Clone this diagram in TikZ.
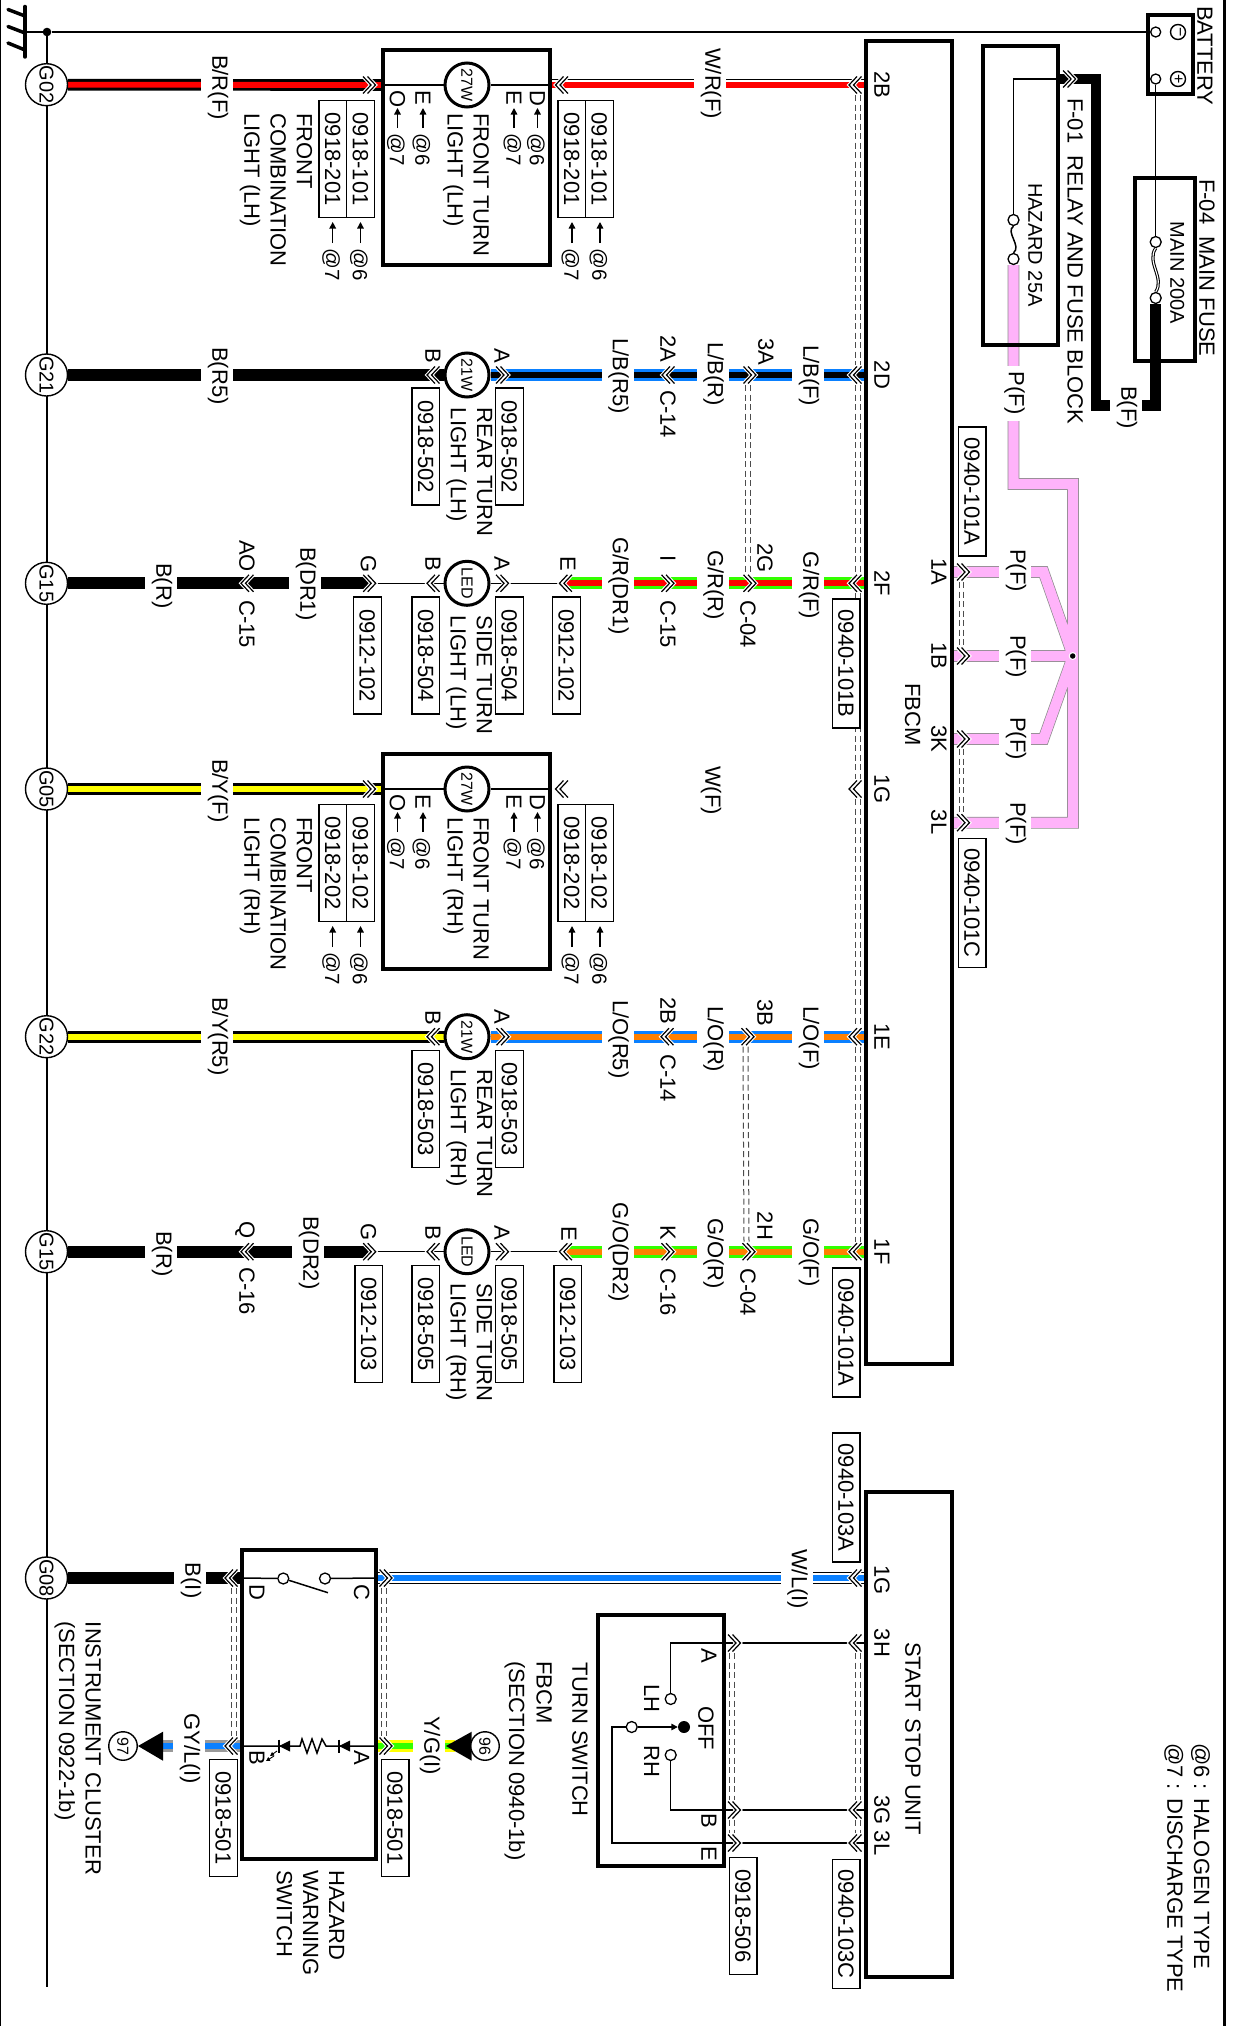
\documentclass[tikz,border=0pt]{standalone}
\usepackage{fontspec}
\setmainfont{Liberation Sans}
\usetikzlibrary{arrows.meta,backgrounds}
\definecolor{wred}{HTML}{FF0000}
\definecolor{wblue}{HTML}{0A80FF}
\definecolor{wgreen}{HTML}{33FF00}
\definecolor{worange}{HTML}{FF8000}
\definecolor{wyellow}{HTML}{FFFF00}
\definecolor{wpink}{HTML}{FFB3FA}
\definecolor{wgray}{HTML}{999999}
\newcommand\fsA{\fontsize{22}{26.2}\selectfont}
\newcommand\fsB{\fontsize{20}{24}\selectfont}
\newcommand\fsC{\fontsize{16}{20}\selectfont}
\tikzset{
 tx/.style={rotate=-90,anchor=west,inner sep=0pt,text height=15.4pt,text depth=0pt,font=\fsA},
 txc/.style={rotate=-90,anchor=center,inner sep=0pt,text height=15.4pt,text depth=0pt,font=\fsA},
 txm/.style={rotate=-90,anchor=west,inner sep=0pt,align=left,font=\fsA},
 wl/.style={rotate=-90,anchor=west,inner xsep=0pt,inner ysep=0pt,fill=white,minimum height=32pt,text height=15.4pt,text depth=6pt,font=\fsA},
 refbox/.style={rotate=-90,draw,fill=white,line width=1.3pt,inner sep=0pt,minimum width=117pt,minimum height=27.7pt,text height=15.4pt,text depth=0pt,font=\fsA},
 refboxl/.style={refbox,minimum width=129pt},
 gnd/.style={circle,draw,line width=1.4pt,fill=white,inner sep=0pt,minimum size=42pt,rotate=-90,font=\fsB},
 lampn/.style={circle,draw,line width=3pt,fill=white,inner sep=0pt,minimum size=44pt,rotate=-90,font=\fsC},
 term/.style={circle,draw,line width=1.3pt,fill=white,inner sep=0pt,minimum size=11pt},
 sym/.style={circle,draw,line width=1.4pt,inner sep=0pt,minimum size=15pt,rotate=-90,font=\fsC},
 tag/.style={circle,draw,line width=1.4pt,fill=white,inner sep=0pt,minimum size=28.5pt,rotate=-90,font=\fsC},
 modb/.style={draw,line width=4pt},
 thinw/.style={draw,line width=1.5pt},
 dsh/.style={draw,line width=1pt,black!70,dash pattern=on 6pt off 3.5pt},
 smallarrow/.style={-{Triangle[length=6.5pt,width=6.5pt]},line width=1.4pt},
}
\newcommand\chev[4]{\coordinate (#1) at (#2,#3);
 \begin{scope}[shift={(#1)},xscale=#4]
 \draw[white,line width=3.4pt] (-6.5,-8.5)--(1.5,0)--(-6.5,8.5) (-2,-8.5)--(6,0)--(-2,8.5);
 \draw[black,line width=1.2pt] (-6.5,-8.5)--(1.5,0)--(-6.5,8.5) (-2,-8.5)--(6,0)--(-2,8.5);
 \end{scope}}
\newcommand\wire[3]{\draw[line width=11.7pt,#1]#3;\draw[line width=5.8pt,#2]#3;}
\newcommand\wireW[2]{\draw[line width=12pt,black]#2;\draw[line width=10pt,white]#2;\draw[line width=6pt,#1]#2;}
\newcommand\pinkw[1]{\draw[line width=11.6pt,black!45]#1;\draw[line width=10.2pt,wpink]#1;}
\newcommand\dpair[4]{\draw[dsh] ([shift={(#3,10)}]#1) -- ([shift={(#3,-10)}]#2);\draw[dsh] ([shift={(#4,10)}]#1) -- ([shift={(#4,-10)}]#2);}
\newcommand\arrowlab[4]{\draw[smallarrow] (#1,#3) -- (#1,#2);\node[tx,font=\fontsize{20.5}{24}\selectfont] at (#1,#3+5) {#4};}
% front combination unit: prefix, row y, side, ref1, ref2
\newcommand\frontunit[5]{\begin{scope}[shift={(0,#2)}]
 \coordinate (#1w) at (382.5,0); \coordinate (#1e) at (550,0);
 \draw[modb] (382.5,-35) rectangle (550,180);
 \node[lampn] (#1lamp) at (467,0) {27W};
 \node[txm] (#1n) at (466,28) {FRONT TURN\\LIGHT (#3)};
 \node[txm] (#1m) at (276,28) {FRONT\\COMBINATION\\LIGHT (#3)};
 \node[tx] at (397.5,5) {O}; \arrowlab{397.5}{23}{43}{@7}
 \node[tx] at (423,5) {E}; \arrowlab{423}{23}{43}{@6}
 \node[tx] at (514,5) {E}; \arrowlab{514}{23}{43}{@7}
 \node[tx] at (537.5,5) {D}; \arrowlab{537.5}{23}{43}{@6}
 \node[refbox] (#1ra) at (360.5,74.2) {#4};
 \node[refbox] (#1rb) at (332.7,74.2) {#5};
 \node[refbox] (#1rc) at (599.4,74.2) {#4};
 \node[refbox] (#1rd) at (571.7,74.2) {#5};
 \arrowlab{360.5}{137}{158}{@6} \arrowlab{332.7}{137}{158}{@7}
 \arrowlab{600}{137}{158}{@6} \arrowlab{572}{137}{158}{@7}
 \end{scope}}
\begin{document}
\begin{tikzpicture}[x=1pt,y=-1pt]
\useasboundingbox (0,0) rectangle (1233,2026);
% frame
\draw[line width=1.5pt] (.7,0)--(.7,2026);
\draw[line width=3pt] (1224,0)--(1224,2026);
% ground symbol and bus
\node[circle,fill=black,inner sep=0pt,minimum size=8.6pt] (gj) at (47,32) {};
\coordinate (gs) at (25,32);
\coordinate (busend) at (47,1987);
\draw[line width=3.5pt,line cap=round] (25,6.5)--(25,57);
\draw[line width=3.5pt,line cap=round] (25,16)--(8,9.5) (25,33)--(8,26.5) (25,50)--(8,43);
\draw[thinw] (gs)--(gj);
\node[gnd] (g02) at (46.5,84.7) {G02};
\node[gnd] (g21) at (46.5,375) {G21};
\node[gnd] (g15a) at (46.5,583.3) {G15};
\node[gnd] (g05) at (46.5,789) {G05};
\node[gnd] (g22) at (46.5,1036.7) {G22};
\node[gnd] (g15b) at (46.5,1251.7) {G15};
\node[gnd] (g08) at (46.5,1578) {G08};
% modules
\draw[modb] (866,41) rectangle (952,1364);
\draw[modb] (866,1491.7) rectangle (952,1976.7);
\draw[modb] (983.4,45.7) rectangle (1057.8,345);
\draw[modb] (1135,178) rectangle (1195,360.7);
\draw[modb] (1147.5,15) rectangle (1192.5,94);
\draw[modb] (241.7,1550) rectangle (376,1859);
\draw[modb] (598.3,1615) rectangle (724,1866);
% module pin coordinates
\coordinate (m2B) at (866,85); \coordinate (m2D) at (866,375); \coordinate (m2F) at (866,583.3);
\coordinate (m1E) at (866,1036.7); \coordinate (m1F) at (866,1251.7);
\coordinate (m1A) at (952,572); \coordinate (m1B) at (952,656); \coordinate (m3K) at (952,739); \coordinate (m3L) at (952,822.7);
\coordinate (ss1G) at (866,1578); \coordinate (ss3H) at (866,1643); \coordinate (ss3G) at (866,1810); \coordinate (ss3L) at (866,1843);
% module pin labels
\node[txc] at (882,85) {2B}; \node[txc] at (882,375) {2D}; \node[txc] at (882,583.3) {2F};
\node[txc] at (882,789) {1G}; \node[txc] at (882,1036.7) {1E}; \node[txc] at (882,1251.7) {1F};
\node[txc] at (939,572) {1A}; \node[txc] at (939,656) {1B}; \node[txc] at (939,739) {3K}; \node[txc] at (939,822) {3L};
\node[tx] at (912.7,683) {FBCM};
\node[txc] at (882,1580) {1G}; \node[txc] at (882,1643) {3H}; \node[txc] at (882,1810) {3G}; \node[txc] at (882,1843) {3L};
\node[tx] (ssu) at (913,1642) {START STOP UNIT};
\node[tx] at (1201.7,1743) {@6 : HALOGEN TYPE};
\node[tx] at (1175,1743) {@7 : DISCHARGE TYPE};
% module references
\node[refboxl] (r101Aa) at (972,491.5) {0940-101A};
\node[refboxl] (r101C) at (972,903) {0940-101C};
\node[refboxl] (r101B) at (846,663.5) {0940-101B};
\node[refboxl] (r101Ab) at (846,1332.5) {0940-101A};
\node[refboxl] (r103A) at (846,1497.5) {0940-103A};
\node[refboxl] (r103C) at (846,1924) {0940-103C};
% battery
\node[tx] at (1205,6) {BATTERY};
\node[term,minimum size=10pt] (bat1) at (1155.7,32) {};
\node[term,minimum size=10pt] (bat2) at (1155.7,79) {};
\node[sym] (minus) at (1178,32) {−};
\node[sym] (plus) at (1178,79) {+};
% fuses
\node[tx] at (1207,179) {F-04\ \ MAIN FUSE};
\node[tx,font=\fsB] at (1178,221.7) {MAIN 200A};
\node[term] (f2a) at (1155.7,242) {};
\node[term] (f2b) at (1155.7,298) {};
\node[tx] at (1075.4,98) {F-01\ \ RELAY AND FUSE BLOCK};
\node[tx,font=\fsB] at (1036,183) {HAZARD 25A};
\node[term] (f1a) at (1013.5,220) {};
\node[term] (f1b) at (1013.5,259) {};
\coordinate (rel79) at (1058,79);
\coordinate (pbend1) at (1013.5,484); \coordinate (pbend2) at (1073,484);
\coordinate (pj) at (1073,656);
\chev{crel}{1069.6}{79}{1}
% pink pins
\chev{c1A}{963.5}{572}{1}\chev{c1B}{963.5}{656}{1}\chev{c3K}{963.5}{739}{1}\chev{c3L}{963.5}{822.7}{1}
\node[circle,fill=white,inner sep=0pt,minimum size=8pt] (pjw) at (1072.7,656) {};
\node[circle,fill=black,inner sep=0pt,minimum size=5.5pt] (pjd) at (1072.7,656) {};
\node[wl] at (1015,549) {P(F)}; \node[wl] at (1015,635) {P(F)}; \node[wl] at (1015,717) {P(F)}; \node[wl] at (1015,802) {P(F)};
\node[wl,inner xsep=6pt] at (1013.5,365.7) {P(F)};
\node[wl] at (1126,386) {B(F)};
% row 1
\frontunit{fa}{85}{LH}{0918-101}{0918-201}
\chev{c1a}{369.5}{85}{1}\chev{c1b}{561.5}{85}{-1}\chev{c1c}{855}{85}{-1}
\node[wl] at (217,55) {B/R(F)};
\node[wl] at (710,48) {W/R(F)};
% row 2
\node[lampn] (l2) at (467,375) {21W};
\chev{c2a}{433}{375}{-1}\chev{c2b}{502.5}{375}{1}\chev{c2c}{668}{375}{-1}\chev{c2d}{750}{375}{1}\chev{c2e}{855}{375}{-1}
\node[wl] at (217,347) {B(R5)};
\node[txc] at (433,356) {B}; \node[txc] at (502,356) {A};
\node[refbox] (r2a) at (425.7,446.5) {0918-502};
\node[refbox] (r2b) at (509.4,446.5) {0918-502};
\node[txm] (n2) at (469.2,407.6) {REAR TURN\\LIGHT (LH)};
\node[wl] at (617.5,338) {L/B(R5)};
\node[txc] at (668,349) {2A}; \node[tx] at (668,390) {C-14};
\node[wl] at (712.5,342) {L/B(R)};
\node[txc] at (766,352) {3A};
\node[wl] at (808,345) {L/B(F)};
% row 3
\node[lampn] (l3) at (467,583.3) {LED};
\chev{c3a}{247}{583.3}{-1}\chev{c3g}{369.7}{583.3}{1}\chev{c3b}{433}{583.3}{-1}\chev{c3c}{502.5}{583.3}{1}\chev{c3d}{565.4}{583.3}{-1}\chev{c3e}{668}{583.3}{1}\chev{c3f}{750}{583.3}{1}\chev{c3h}{855}{583.3}{-1}
\node[wl] at (161,563) {B(R)};
\node[txc] at (247,556) {AO}; \node[tx] at (247,600) {C-15};
\node[wl] at (305,547) {B(DR1)};
\node[txc] at (368.5,564) {G}; \node[txc] at (433,564) {B}; \node[txc] at (502,564) {A}; \node[txc] at (568,564) {E};
\node[refbox] (r3a) at (367.3,655.5) {0912-102};
\node[refbox] (r3b) at (425.7,655.5) {0918-504};
\node[refbox] (r3c) at (509.4,655.5) {0918-504};
\node[refbox] (r3d) at (566.4,655.5) {0912-102};
\node[txm] (n3) at (469.2,615.7) {SIDE TURN\\LIGHT (LH)};
\node[wl] at (617.5,537) {G/R(DR1)};
\node[txc] at (668,559) {I}; \node[tx] at (668,600) {C-15};
\node[wl] at (712.5,550) {G/R(R)};
\node[txc] at (765,558) {2G}; \node[tx] at (748,600) {C-04};
\node[wl] at (808,551.7) {G/R(F)};
% row 4
\frontunit{fb}{789}{RH}{0918-102}{0918-202}
\chev{c4a}{369.5}{789}{1}\chev{c4b}{561.5}{789}{-1}\chev{c4c}{855}{789}{-1}
\node[wl] at (217,759) {B/Y(F)};
\node[wl] at (710,766) {W(F)};
% row 5
\node[lampn] (l5) at (467,1036.7) {21W};
\chev{c5a}{433}{1036.7}{-1}\chev{c5b}{503}{1036.7}{1}\chev{c5c}{667}{1036.7}{-1}\chev{c5d}{748}{1036.7}{1}\chev{c5e}{855}{1036.7}{-1}
\node[wl] at (217,997) {B/Y(R5)};
\node[txc] at (433,1018) {B}; \node[txc] at (502,1017) {A};
\node[refbox] (r5a) at (425.8,1109.2) {0918-503};
\node[refbox] (r5b) at (509.5,1109.2) {0918-503};
\node[txm] (n5) at (469.2,1069.3) {REAR TURN\\LIGHT (RH)};
\node[wl] at (617.5,1000) {L/O(R5)};
\node[txc] at (668,1010.5) {2B}; \node[tx] at (668,1054) {C-14};
\node[wl] at (712.5,1006) {L/O(R)};
\node[txc] at (765,1013) {3B};
\node[wl] at (808,1006) {L/O(F)};
% row 6
\node[lampn] (l6) at (467,1251.7) {LED};
\chev{c6a}{247}{1251.7}{-1}\chev{c6g}{369.7}{1251.7}{1}\chev{c6b}{433}{1251.7}{-1}\chev{c6c}{502.5}{1251.7}{1}\chev{c6d}{565.4}{1251.7}{-1}\chev{c6e}{668}{1251.7}{1}\chev{c6f}{749}{1251.7}{1}\chev{c6h}{855}{1251.7}{-1}
\node[wl] at (161,1231) {B(R)};
\node[txc] at (247,1230) {Q}; \node[tx] at (247,1267) {C-16};
\node[wl] at (308,1216) {B(DR2)};
\node[txc] at (368.5,1232.5) {G}; \node[txc] at (433,1232.5) {B}; \node[txc] at (502,1232.5) {A}; \node[txc] at (569,1234) {E};
\node[refbox] (r6a) at (368.7,1324) {0912-103};
\node[refbox] (r6b) at (425.7,1324) {0918-505};
\node[refbox] (r6c) at (509.4,1324) {0918-505};
\node[refbox] (r6d) at (567.8,1324) {0912-103};
\node[txm] (n6) at (469.2,1283) {SIDE TURN\\LIGHT (RH)};
\node[wl] at (617.5,1202.7) {G/O(DR2)};
\node[txc] at (668,1233) {K}; \node[tx] at (668,1268) {C-16};
\node[wl] at (712.5,1218) {G/O(R)};
\node[txc] at (765,1226) {2H}; \node[tx] at (748,1268) {C-04};
\node[wl] at (808,1218) {G/O(F)};
% hazard switch
\coordinate (hzw1) at (241.7,1578); \coordinate (hze1) at (376,1578);
\coordinate (hzw2) at (241.7,1746); \coordinate (hze2) at (376,1746);
\node[term] (hs1) at (283.3,1578.5) {};
\node[term] (hs2) at (325,1578.5) {};
\coordinate (hs3) at (328,1592.7);
\draw[thinw] (hs1) -- (hs3);
\chev{c7d}{231}{1578}{-1}\chev{c7c}{386}{1578}{1}\chev{c7e}{855}{1578}{-1}
\chev{c8b}{231}{1746}{-1}\chev{c8a}{386}{1746}{1}
\node[txc] at (257,1592) {D}; \node[txc] at (361.7,1592) {C};
\node[txc] at (257,1758) {B}; \node[txc] at (361.7,1758) {A};
\node[wl] at (190,1562.7) {B(I)};
\node[wl] at (189,1713) {GY/L(I)};
\node[wl] at (429,1716) {Y/G(I)};
\node[wl] at (796.5,1549) {W/L(I)};
\node[refbox] (r8a) at (223.3,1817.8) {0918-501};
\node[refbox] (r8b) at (395,1817.8) {0918-501};
\node[txm] (hzn) at (310.5,1870) {HAZARD\\WARNING\\SWITCH};
\node[tx] at (93.3,1621.7) {INSTRUMENT CLUSTER};
\node[tx] at (66.7,1621) {(SECTION 0922-1b)};
\fill (138,1746)--(163,1731.7)--(163,1760.7)--cycle;
\fill (446,1746)--(471.7,1731.7)--(471.7,1760.7)--cycle;
\coordinate (tri97) at (163,1746); \coordinate (tri96) at (455,1746);
\node[tag] (n97) at (123,1746) {97};
\node[tag] (n96) at (485,1746) {96};
\fill (290,1740.5)--(290,1751.5)--(279,1746)--cycle; \draw[line width=1.6pt] (279,1739.5)--(279,1752.5);
\fill (350,1740.5)--(350,1751.5)--(339,1746)--cycle; \draw[line width=1.6pt] (339,1739.5)--(339,1752.5);
\draw[smallarrow,-{Triangle[length=4pt,width=4pt]},line width=.9pt] (277,1751)--(270,1756);
\draw[smallarrow,-{Triangle[length=4pt,width=4pt]},line width=.9pt] (274,1756)--(266,1761);
\draw[thinw] (hzw2)--(300,1746)--(302,1739)--(307,1753)--(312,1739)--(317,1753)--(322,1739)--(326,1746)--(hze2);
% turn switch
\node[tx] at (580,1662.7) {TURN SWITCH};
\node[tx] at (544.3,1661) {FBCM};
\node[tx] at (516.7,1661) {(SECTION 0940-1b)};
\node[term] (tsl) at (670.7,1699) {};
\node[term] (tsr) at (670.7,1755) {};
\node[term] (tsc) at (631.7,1727) {};
\node[circle,fill=black,inner sep=0pt,minimum size=12pt] (tso) at (684,1727) {};
\draw[smallarrow] (tsc) -- (tso);
\coordinate (tsA) at (670.7,1643); \coordinate (tsB) at (670.7,1810); \coordinate (tsE) at (612,1843); \coordinate (tsF) at (612,1727);
\node[txc] at (709,1656) {A}; \node[txc] at (709,1820.7) {B}; \node[txc] at (709,1854) {E};
\node[tx] at (706,1706) {OFF}; \node[tx] at (651.7,1684) {LH}; \node[tx] at (651.7,1745.7) {RH};
\chev{ct1}{734.5}{1643}{1}\chev{ct2}{734.5}{1810}{1}\chev{ct3}{734.5}{1843}{1}
\chev{cs1}{855}{1643}{-1}\chev{cs2}{855}{1810}{-1}\chev{cs3}{855}{1843}{-1}
\node[refbox] (r506) at (743,1915.8) {0918-506};
% wiring layer
\begin{pgfonlayer}{background}
\draw[thinw] (gj) -- (bat1);
\draw[thinw] (gj) -- (busend);
\draw[thinw] (bat2) -- (f2a);
\draw[line width=3.2pt] (f2a.south) .. controls (1146,262) and (1165,278) .. (f2b.north);
\draw[line width=1.1pt,white] (f2a.south) .. controls (1146,262) and (1165,278) .. (f2b.north);
\draw[line width=10.5pt,black] (f2b) -- (1155.7,405.7) -- (1096,405.7) -- (1096,79) -- (rel79);
\draw[thinw] (rel79) -- (1013.5,79) -- (f1a);
\draw[line width=1.5pt] (f1a.south) .. controls (1005,232) and (1022,246) .. (f1b.north);
\pinkw{(f1b)--(pbend1)--(pbend2)--(1073,822.7)--(m3L) (m1B)--(pj) (m1A)--(1043.5,572)--(pj) (m3K)--(1043.5,739)--(pj)}
% row 1
\wire{black}{wred}{(g02)--(faw)}
\draw[thinw] (faw)--(falamp);
\draw[thinw] (fae)--(falamp);
\draw[line width=6pt,wred] (fae)--(m2B);
\draw[line width=1.3pt] ([yshift=5.8pt]fae)--([yshift=5.8pt]m2B);
% row 2
\wire{black}{black}{(g21)--(l2)}
\wire{wblue}{black}{(l2)--(m2D)}
% row 3
\wire{black}{black}{(g15a)--(c3g)}
\draw[thinw] (c3g)--(l3)--(c3d);
\wire{wgreen}{wred}{(c3d)--(m2F)}
% row 4
\wire{black}{wyellow}{(g05)--(fbw)}
\draw[thinw] (fbw)--(fblamp);
\draw[thinw] (fbe)--(fblamp);
% row 5
\wire{black}{wyellow}{(g22)--(l5)}
\wire{wblue}{worange}{(l5)--(m1E)}
% row 6
\wire{black}{black}{(g15b)--(c6g)}
\draw[thinw] (c6g)--(l6)--(c6d);
\wire{wgreen}{worange}{(c6d)--(m1F)}
% hazard
\wire{black}{black}{(g08)--(hzw1)}
\draw[thinw] (hzw1)--(hs1); \draw[thinw] (hs2)--(hze1);
\wireW{wblue}{(hze1)--(ss1G)}
\wire{wgray}{wblue}{(tri97)--(hzw2)}
\draw[line width=11.7pt,wyellow] (hze2)--(tri96); \draw[line width=6.5pt,wgreen] (hze2)--(tri96);
% turn switch wires
\draw[thinw] (ss3H)--(tsA)--(tsl);
\draw[thinw] (ss3G)--(tsB)--(tsr);
\draw[thinw] (ss3L)--(tsE)--(tsF)--(tsc);
% twisted pair / shield marks
\dpair{c1c}{c2e}{0}{5}\dpair{c2e}{c3h}{0}{5}\dpair{c3h}{c4c}{0}{5}\dpair{c4c}{c5e}{0}{5}\dpair{c5e}{c6h}{0}{5}
\dpair{c2d}{c3f}{-5}{0}\dpair{c5d}{c6f}{-5}{0}
\dpair{c1A}{c1B}{-4.5}{0}\dpair{c3K}{c3L}{-4.5}{0}
\dpair{c7d}{c8b}{0}{5}\dpair{c7c}{c8a}{-5}{0}
\dpair{ct1}{ct2}{-5}{0}\dpair{ct2}{ct3}{-5}{0}
\dpair{cs1}{cs2}{0}{5}\dpair{cs2}{cs3}{0}{5}
\end{pgfonlayer}
\end{tikzpicture}
\end{document}
